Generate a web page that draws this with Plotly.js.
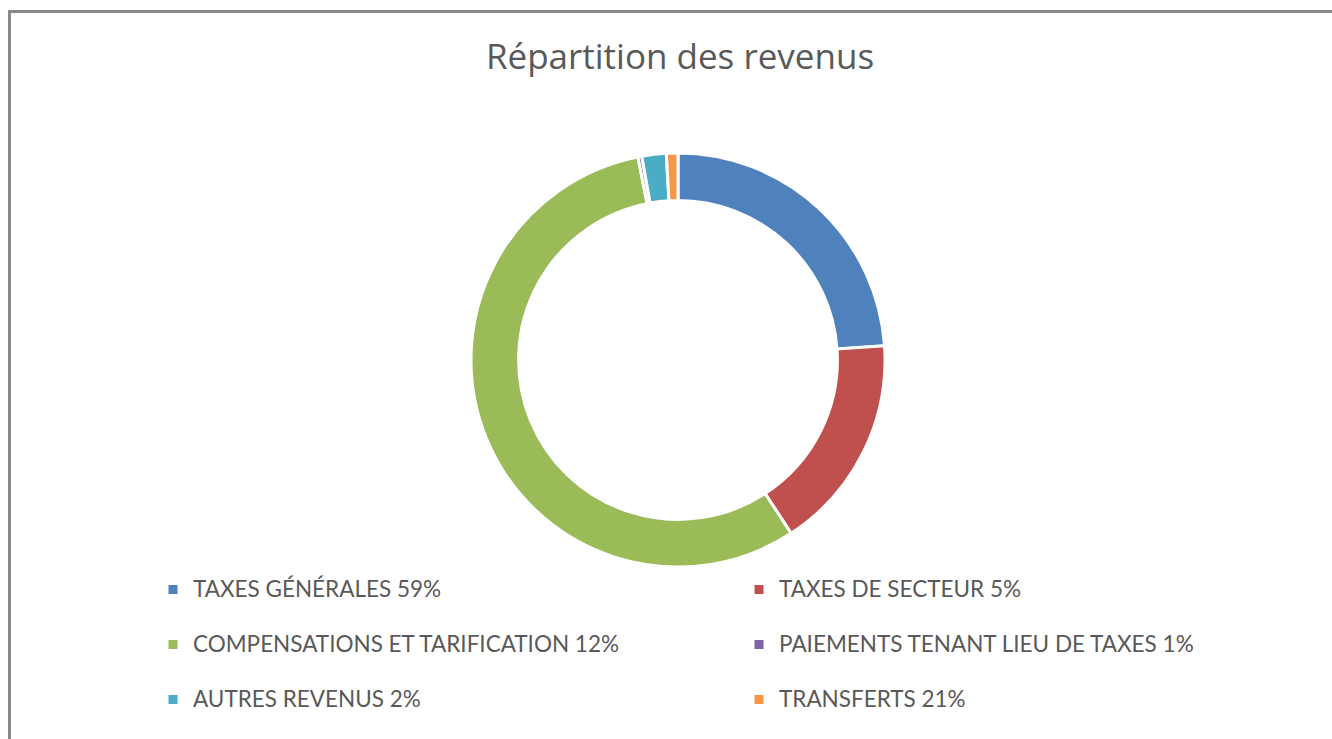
<!DOCTYPE html>
<html>
<head>
<meta charset="utf-8">
<script src="https://cdn.plot.ly/plotly-3.0.1.min.js"></script>
<style>
html,body{margin:0;padding:0;background:#fff;}
#chart{width:1332px;height:739px;position:absolute;left:0;top:0;}
#frame{position:absolute;left:8px;top:10px;width:1340px;height:740px;border-left:3px solid #8a8a8a;border-top:3px solid #8a8a8a;pointer-events:none;}
</style>
</head>
<body>
<div id="chart"></div>
<div id="frame"></div>
<script>
const chartTitle = 'Répartition des revenus';
const categories = [
  'TAXES GÉNÉRALES 59%',
  'TAXES DE SECTEUR 5%',
  'COMPENSATIONS ET TARIFICATION 12%',
  'PAIEMENTS TENANT LIEU DE TAXES 1%',
  'AUTRES REVENUS 2%',
  'TRANSFERTS 21%'
];
const values = [23.9, 16.9, 56.1, 0.3, 1.9, 0.9];
const colors = ['#4F81BD', '#C0504D', '#9BBB59', '#8064A2', '#4BACC6', '#F79646'];

const W = 1332, H = 739;
const cx = 678, cy = 360, R = 207;

// legend rows: first two rows get an extra blank line for spacing
const legendLabels = categories.map((c, i) =>
  '<span style="font-size:22.5px">' + c + '</span>' + (i < 4 ? '<br> ' : ''));

const trace = {
  type: 'pie',
  labels: legendLabels,
  values: values,
  sort: false,
  direction: 'clockwise',
  rotation: 0,
  hole: 0.77,
  textinfo: 'none',
  hoverinfo: 'label+value',
  marker: {colors: colors, line: {color: '#ffffff', width: 3}},
  domain: {
    x: [(cx - R) / W, (cx + R) / W],
    y: [1 - (cy + R) / H, 1 - (cy - R) / H]
  }
};

const layout = {
  width: W, height: H,
  margin: {l: 0, r: 0, t: 0, b: 0},
  paper_bgcolor: '#ffffff',
  font: {family: 'Lato, "Open Sans", sans-serif', color: '#595959'},
  title: {
    text: chartTitle,
    font: {size: 35, color: '#595959', family: '"Open Sans", Lato, sans-serif'},
    x: 680 / W, xanchor: 'center', xref: 'container',
    y: 1 - 57 / H, yanchor: 'middle', yref: 'container'
  },
  showlegend: true,
  legend: {
    orientation: 'h',
    xref: 'paper', yref: 'paper',
    x: 153 / W, xanchor: 'left',
    y: 1 - 570 / H, yanchor: 'top',
    entrywidth: 541, entrywidthmode: 'pixels',
    valign: 'top',
    font: {size: 20, color: '#595959', family: 'Lato, "Open Sans", sans-serif'},
    bgcolor: 'rgba(0,0,0,0)'
  }
};

Plotly.newPlot('chart', [trace], layout, {displayModeBar: false, staticPlot: true});
</script>
</body>
</html>
